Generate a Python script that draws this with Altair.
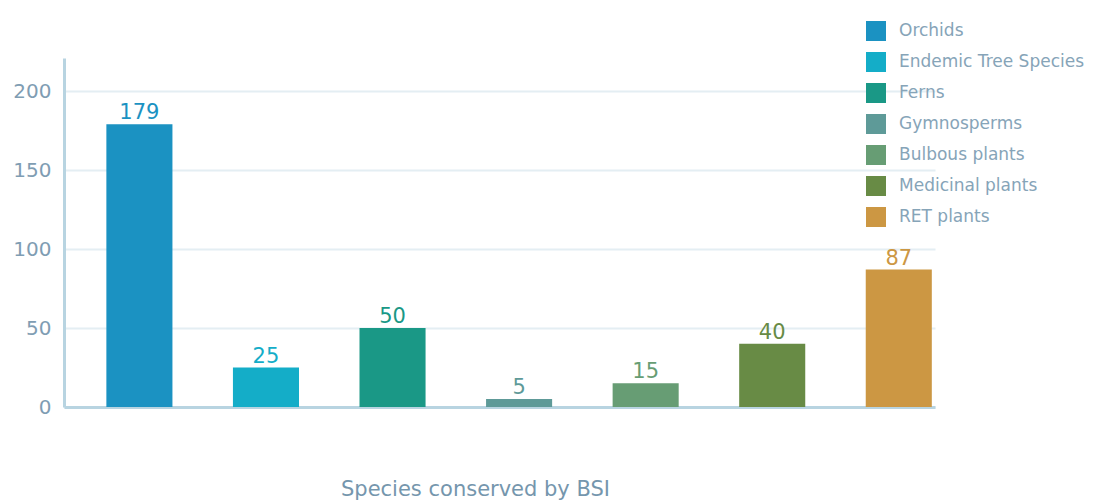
import altair as alt
import pandas as pd

categories = ["Orchids", "Endemic Tree Species", "Ferns", "Gymnosperms",
              "Bulbous plants", "Medicinal plants", "RET plants"]
values = [179, 25, 50, 5, 15, 40, 87]
colors = ["#1b92c2", "#14adc8", "#1a9886", "#5e9a98", "#679d74", "#688b45", "#cc9743"]
y_ticks = [0, 50, 100, 150, 200]

df = pd.DataFrame({"category": categories, "value": values})

FONT = "DejaVu Sans"

x_enc = alt.X("category:N", sort=categories,
              scale=alt.Scale(paddingInner=0.478, paddingOuter=0.18, align=0.93),
              axis=alt.Axis(labels=False, ticks=False, title="Species conserved by BSI",
                            domainColor="#b8d4e1", domainWidth=3,
                            titleFont=FONT, titleFontSize=21, titleFontWeight="normal",
                            titleColor="#7596ad", titlePadding=71, titleX=411))
y_enc = alt.Y("value:Q", scale=alt.Scale(domain=[0, 221], nice=False),
              axis=alt.Axis(values=y_ticks, title=None, ticks=False,
                            domainColor="#b8d4e1", domainWidth=3,
                            gridColor="#e4eef3", gridWidth=2,
                            labelFont=FONT, labelFontSize=20, labelColor="#7f9db3",
                            labelPadding=13))
color_enc = alt.Color("category:N", sort=categories,
                      scale=alt.Scale(domain=categories, range=colors),
                      legend=alt.Legend(orient="none", legendX=802, legendY=-37,
                                        title=None, symbolType="square", symbolSize=400,
                                        symbolStrokeWidth=0, labelFont=FONT,
                                        labelFontSize=17, labelColor="#86a4b8",
                                        labelOffset=13, rowPadding=11, labelLimit=300))

bars = alt.Chart(df).mark_bar().encode(x=x_enc, y=y_enc, color=color_enc)
labels = alt.Chart(df).mark_text(baseline="bottom", dy=-1, font=FONT, fontSize=21).encode(
    x=alt.X("category:N", sort=categories),
    y=alt.Y("value:Q"),
    text="value:Q",
    color=alt.Color("category:N", sort=categories, legend=None),
)

chart = alt.layer(bars, labels).properties(
    width=871, height=349,
    autosize=alt.AutoSizeParams(type="none"),
    padding={"left": 64, "top": 58, "right": 158, "bottom": 94},
).configure(background="white").configure_view(stroke=None)

chart.save("out.html", embed_options={"renderer": "svg", "actions": False})
